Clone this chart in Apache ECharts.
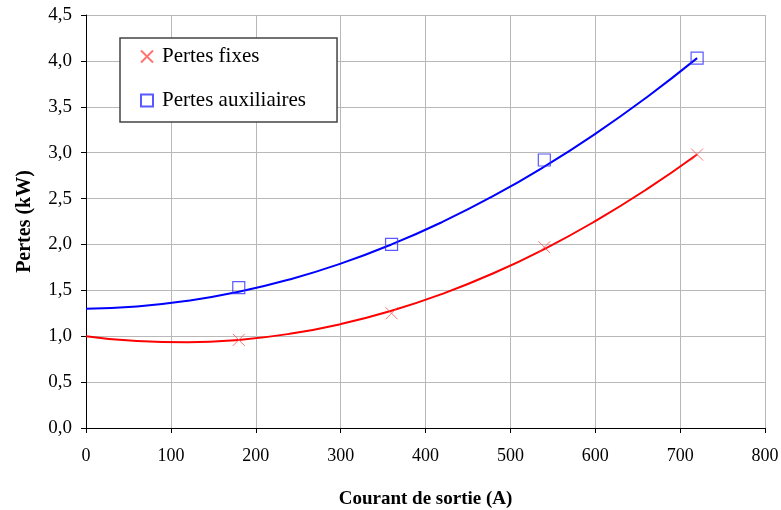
<!DOCTYPE html>
<html><head><meta charset="utf-8">
<script src="https://cdn.jsdelivr.net/npm/echarts@6/dist/echarts.min.js"></script>
<style>html,body{margin:0;padding:0;background:#fff}#c{width:781px;height:510px}</style>
</head><body><div id="c"></div>
<script>
const xTicks = [0,100,200,300,400,500,600,700,800];
const pointX = [180, 360, 540, 720];
const fixesPts = [0.96, 1.25, 1.97, 2.98];
const auxPts = [1.53, 2.00, 2.92, 4.03];
const curveX = [0,60,120,180,240,300,360,420,480,540,600,660,720];
const fixesCurve = [1.00,0.947,0.934,0.960,1.026,1.132,1.277,1.462,1.686,1.950,2.254,2.597,2.98];
const auxCurve = [1.30,1.324,1.386,1.484,1.619,1.791,2.000,2.246,2.528,2.848,3.205,3.599,4.03];
const zip = (xs, ys) => xs.map((x,i)=>[x, ys[i]]);
const F = 'Liberation Serif, Times New Roman, serif';
const chart = echarts.init(document.getElementById('c'));
chart.setOption({
  animation:false,
  grid:{left:86,right:16,top:15,bottom:82,containLabel:false,outerBoundsMode:'none'},
  legend:{
    orient:'vertical', left:120, top:38,
    padding:[8,31,11,20], itemGap:23, itemWidth:12, itemHeight:12,
    borderColor:'#444', borderWidth:1.5, backgroundColor:'#fff',
    textStyle:{fontFamily:F,fontSize:21,color:'#000',padding:[0,0,0,4]},
    data:['Pertes fixes','Pertes auxiliaires']
  },
  xAxis:{type:'value',min:0,max:800,interval:100,
    name:'Courant de sortie (A)',nameLocation:'middle',nameGap:62,
    nameTextStyle:{fontFamily:F,fontSize:19,fontWeight:'bold',color:'#000'},
    axisLine:{lineStyle:{color:'#000',width:1}},
    axisTick:{show:true,inside:false,length:5,lineStyle:{color:'#000'}},
    axisLabel:{fontFamily:F,fontSize:18,color:'#000',margin:19},
    splitLine:{show:true,lineStyle:{color:'#b8b8b8',width:1}}},
  yAxis:{type:'value',min:0,max:4.5,interval:0.5,
    name:'Pertes (kW)',nameLocation:'middle',nameGap:51,nameRotate:90,
    nameTextStyle:{fontFamily:F,fontSize:20,fontWeight:'bold',color:'#000'},
    axisLine:{show:true,lineStyle:{color:'#000',width:1}},
    axisTick:{show:true,inside:false,length:5,lineStyle:{color:'#000'}},
    axisLabel:{fontFamily:F,fontSize:19,color:'#000',margin:14,
      formatter:v=>v.toFixed(1).replace('.',',')},
    splitLine:{show:true,lineStyle:{color:'#b8b8b8',width:1}}},
  series:[
    {name:'Pertes fixes curve',type:'line',data:zip(curveX,fixesCurve),smooth:true,showSymbol:false,
      lineStyle:{color:'#ff0000',width:2},z:2,silent:true},
    {name:'Pertes auxiliaires curve',type:'line',data:zip(curveX,auxCurve),smooth:true,showSymbol:false,
      lineStyle:{color:'#0000ff',width:2},z:2,silent:true},
    {name:'Pertes fixes',type:'scatter',data:zip(pointX,fixesPts),
      symbol:'path://M0,0L10,10M10,0L0,10',symbolSize:12,
      itemStyle:{color:'transparent',borderColor:'#ff5050',borderWidth:1},z:3},
    {name:'Pertes auxiliaires',type:'scatter',data:zip(pointX,auxPts),
      symbol:'rect',symbolSize:12,
      itemStyle:{color:'transparent',borderColor:'#3030ff',borderWidth:1.2},z:3}
  ]
});
</script></body></html>
